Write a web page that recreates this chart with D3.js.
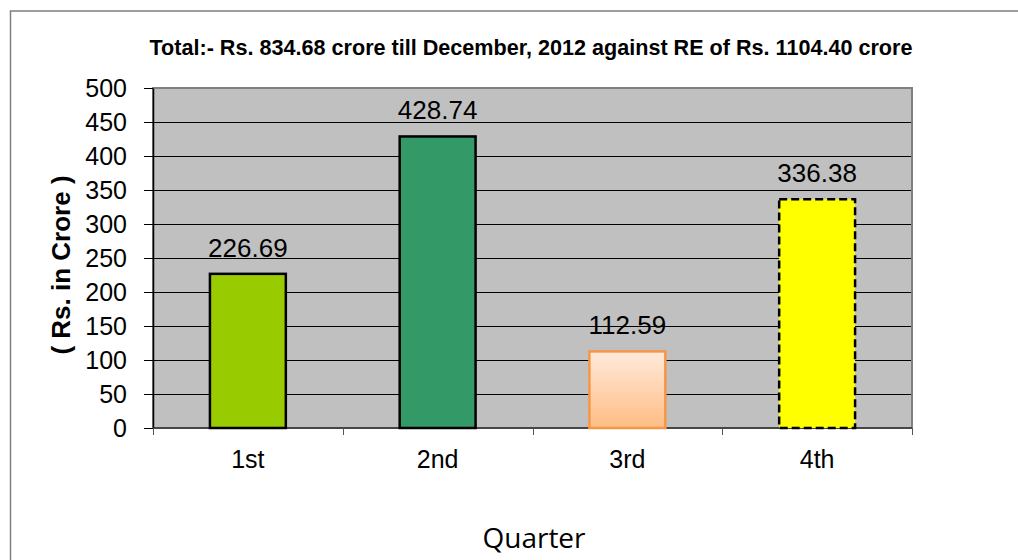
<!DOCTYPE html>
<html>
<head>
<meta charset="utf-8">
<script src="https://unpkg.com/d3@7/dist/d3.min.js"></script>
<style>
  body { margin: 0; background: #fff; }
  text { font-family: Arial, "Liberation Sans", sans-serif; }
</style>
</head>
<body>
<div id="chartContainer"></div>
<script>
// Chart data
const quarters = ["1st", "2nd", "3rd", "4th"];
const amounts = [226.69, 428.74, 112.59, 336.38];
const yTicks = [0, 50, 100, 150, 200, 250, 300, 350, 400, 450, 500];
const titleText = "Total:- Rs. 834.68 crore till December, 2012 against RE of Rs. 1104.40 crore";

const width = 1018, height = 560;
const plot = { left: 153, top: 88, right: 912, bottom: 428 };

const svg = d3.select("#chartContainer").append("svg")
  .attr("width", width)
  .attr("height", height);

// Gradient for the 3rd quarter bar
const grad = svg.append("defs").append("linearGradient")
  .attr("id", "peach")
  .attr("x1", 0).attr("y1", 0).attr("x2", 0).attr("y2", 1);
grad.append("stop").attr("offset", "0%").attr("stop-color", "#ffeadb");
grad.append("stop").attr("offset", "100%").attr("stop-color", "#ffbd84");

// Outer chart frame (runs off the right and bottom edges)
svg.append("rect")
  .attr("x", 10.5).attr("y", 11)
  .attr("width", width).attr("height", height)
  .attr("fill", "none")
  .attr("stroke", "#7f7f7f")
  .attr("stroke-width", 1.5);

// Scales
const x = d3.scaleBand()
  .domain(quarters)
  .range([plot.left, plot.right])
  .paddingInner(0.6)
  .paddingOuter(0.3);

const y = d3.scaleLinear()
  .domain([0, 500])
  .range([plot.bottom, plot.top]);

// Plot area background
svg.append("rect")
  .attr("x", plot.left).attr("y", plot.top)
  .attr("width", plot.right - plot.left)
  .attr("height", plot.bottom - plot.top)
  .attr("fill", "#c0c0c0")
  .attr("stroke", "#808080")
  .attr("stroke-width", 2);

// Gridlines
svg.append("g")
  .selectAll("line")
  .data(yTicks.filter(d => d > 0 && d < 500))
  .enter()
  .append("line")
  .attr("x1", plot.left).attr("x2", plot.right - 1)
  .attr("y1", d => Math.round(y(d)) + 0.5)
  .attr("y2", d => Math.round(y(d)) + 0.5)
  .attr("stroke", "#000")
  .attr("stroke-width", 1);

// Y axis
const yAxis = svg.append("g")
  .attr("transform", `translate(${plot.left},0)`)
  .call(d3.axisLeft(y).tickValues(yTicks).tickSize(9).tickPadding(17).tickSizeOuter(0));
yAxis.select(".domain").attr("stroke", "#000").attr("stroke-width", 1.5);
yAxis.selectAll(".tick line").attr("stroke", "#000");
yAxis.selectAll(".tick text")
  .attr("font-size", 25)
  .attr("fill", "#000")
  .attr("font-family", "Arial, 'Liberation Sans', sans-serif");

// X axis: ticks sit between categories
const bounds = quarters.map(q => x(q) - x.step() * x.paddingInner() / 2);
bounds[0] = plot.left;
bounds.push(plot.right);

svg.append("line")
  .attr("x1", plot.left).attr("x2", plot.right)
  .attr("y1", plot.bottom).attr("y2", plot.bottom)
  .attr("stroke", "#333")
  .attr("stroke-width", 1.5);

svg.append("g")
  .selectAll("line")
  .data(bounds)
  .enter()
  .append("line")
  .attr("x1", d => Math.round(d) + 0.5).attr("x2", d => Math.round(d) + 0.5)
  .attr("y1", plot.bottom).attr("y2", plot.bottom + 7)
  .attr("stroke", "#555");

svg.append("g")
  .selectAll("text")
  .data(quarters)
  .enter()
  .append("text")
  .attr("x", d => x(d) + x.bandwidth() / 2)
  .attr("y", 468)
  .attr("text-anchor", "middle")
  .attr("font-size", 25)
  .text(d => d);

// Bars
const barStyle = [
  { fill: "#99cc00", stroke: "#000", dash: null },
  { fill: "#339966", stroke: "#000", dash: null },
  { fill: "url(#peach)", stroke: "#f79646", dash: null },
  { fill: "#ffff00", stroke: "#000", dash: "8,4" }
];

svg.append("g")
  .selectAll("rect")
  .data(quarters)
  .enter()
  .append("rect")
  .attr("x", d => x(d))
  .attr("y", (d, i) => y(amounts[i]))
  .attr("width", x.bandwidth())
  .attr("height", (d, i) => y(0) - y(amounts[i]))
  .attr("fill", (d, i) => barStyle[i].fill)
  .attr("stroke", (d, i) => barStyle[i].stroke)
  .attr("stroke-width", 2.5)
  .attr("stroke-dasharray", (d, i) => barStyle[i].dash);

// Value labels
svg.append("g")
  .selectAll("text")
  .data(quarters)
  .enter()
  .append("text")
  .attr("x", d => x(d) + x.bandwidth() / 2)
  .attr("y", (d, i) => y(amounts[i]) - 17)
  .attr("text-anchor", "middle")
  .attr("font-size", 26)
  .text((d, i) => amounts[i].toFixed(2));

// Title
svg.append("text")
  .attr("x", 531)
  .attr("y", 55)
  .attr("text-anchor", "middle")
  .attr("font-size", 21.6)
  .attr("font-weight", "bold")
  .text(titleText);

// Y axis title
svg.append("text")
  .attr("transform", "translate(70,265) rotate(-90)")
  .attr("text-anchor", "middle")
  .attr("font-size", 26)
  .attr("font-weight", "bold")
  .text("( Rs. in Crore )");

// X axis title
svg.append("text")
  .attr("x", 534)
  .attr("y", 548)
  .attr("text-anchor", "middle")
  .attr("font-size", 28)
  .style("font-family", "'Open Sans', Lato, sans-serif")
  .text("Quarter");
</script>
</body>
</html>
